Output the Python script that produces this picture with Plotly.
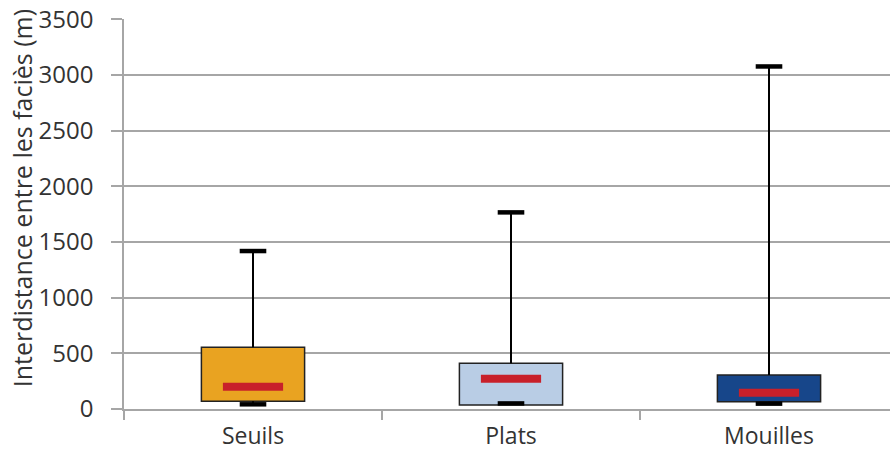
import plotly.graph_objects as go

categories = ["Seuils", "Plats", "Mouilles"]
q1_values = [70, 35, 65]
median_values = [200, 272, 146]
q3_values = [555, 410, 305]
lower_values = [42, 50, 48]
upper_values = [1418, 1765, 3075]
box_colors = ["#E9A321", "#B9CDE5", "#17468A"]

y_ticks = [0, 500, 1000, 1500, 2000, 2500, 3000, 3500]
y_title = "Interdistance entre les faciès (m)"

FONT = "Open Sans"
GRID = "#A6A6A6"
TEXT = "#333333"

fig = go.Figure()

# boxes
fig.add_trace(go.Bar(
    x=categories,
    y=[q3 - q1 for q1, q3 in zip(q1_values, q3_values)],
    base=q1_values,
    width=0.4,
    marker=dict(color=box_colors, line=dict(color="#222222", width=1.5)),
    hoverinfo="skip",
    showlegend=False,
))

# whiskers (outside the boxes)
wx, wy = [], []
for c, lo, q1, q3, hi in zip(categories, lower_values, q1_values, q3_values, upper_values):
    wx += [c, c, None, c, c, None]
    wy += [q3, hi, None, lo, q1, None]
fig.add_trace(go.Scatter(
    x=wx, y=wy, mode="lines",
    line=dict(color="black", width=2),
    hoverinfo="skip", showlegend=False,
))

# whisker caps
fig.add_trace(go.Scatter(
    x=categories + categories,
    y=upper_values + lower_values,
    mode="markers",
    marker=dict(symbol="line-ew", size=19, line=dict(color="black", width=4.5)),
    hoverinfo="skip", showlegend=False,
))

# medians
fig.add_trace(go.Scatter(
    x=categories, y=median_values, mode="markers",
    marker=dict(symbol="line-ew", size=43, line=dict(color="#C8202A", width=8)),
    hoverinfo="skip", showlegend=False,
))

fig.update_layout(
    width=890, height=450,
    margin=dict(l=124, r=0, t=19, b=41),
    paper_bgcolor="white", plot_bgcolor="white",
    font=dict(family=FONT, color=TEXT),
    showlegend=False,
    annotations=[dict(
        text=y_title, textangle=-90,
        xref="paper", yref="paper", x=-0.132, y=0.54,
        xanchor="center", yanchor="middle", showarrow=False,
        font=dict(family=FONT, size=25, color=TEXT),
    )],
)

fig.update_xaxes(
    type="category",
    range=[-0.5, 2.469],
    automargin=False,
    showline=True, linecolor=GRID, linewidth=1.5,
    ticks="outside", tickson="boundaries", ticklen=9, tickcolor=GRID, tickwidth=1.5,
    tickfont=dict(family=FONT, size=23, color=TEXT),
    ticklabelstandoff=6,
    showgrid=False, zeroline=False,
)

fig.update_yaxes(
    range=[0, 3501],
    automargin=False,
    tickvals=y_ticks,
    ticktext=[str(v) for v in y_ticks],
    showline=True, linecolor=GRID, linewidth=1.5,
    ticks="outside", ticklen=11, tickcolor=GRID, tickwidth=1.5,
    showgrid=True, gridcolor=GRID, gridwidth=1.5,
    zeroline=False,
    tickfont=dict(family=FONT, size=24, color=TEXT),
    ticklabelstandoff=13,
)

# remove the page's default 8px body margin so the figure sits at the window corner
fig.write_html(
    "out.html",
    config={"displayModeBar": False},
    post_script="document.body.style.margin='0';",
)
